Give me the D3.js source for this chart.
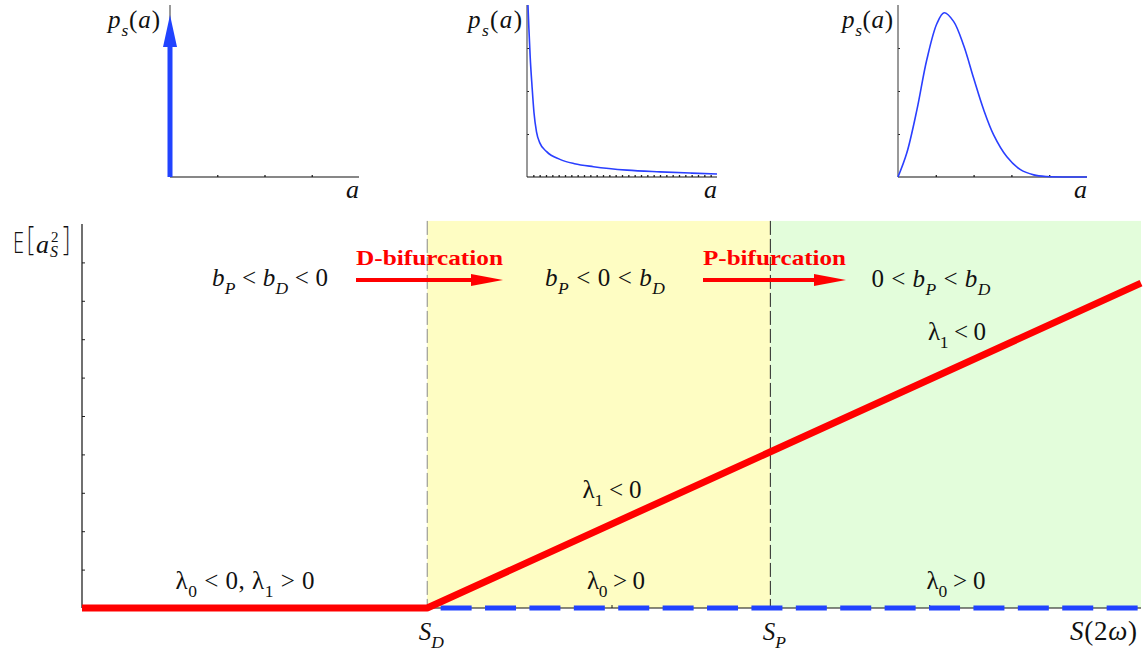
<!DOCTYPE html>
<html>
<head>
<meta charset="utf-8">
<script src="https://cdn.jsdelivr.net/npm/d3@7"></script>
<style>
  html, body { margin: 0; padding: 0; background: #fff; }
  svg { display: block; }
</style>
</head>
<body>
<svg id="chart" width="1147" height="652"></svg>
<script>
// ---- main diagram data ----
const thresholdNames = ["D", "P"];          // S_D, S_P
const thresholdValues = [3.26, 6.50];       // pump level of each bifurcation
const pumpMax = 10;
const redBranchS = [0, 3.26, 10];           // nontrivial branch E[a_S^2]
const redBranchE = [0, 0, 8.46];
const blueBranchS = [3.26, 10];             // trivial branch (unstable)
const blueBranchE = [0, 0];
const yTicks = [1, 2, 3, 4, 5, 6, 7, 8, 9];
const xTicks = [2, 5, 8];
const regionTop = 10.08;

// ---- inset densities ----
const decayA = [0.015, 0.03, 0.05, 0.08, 0.11, 0.15, 0.2, 0.31, 0.52, 0.75, 1.05, 1.58, 2.1, 2.6, 3.0];
const decayP = [4.0, 3.45, 2.8, 2.1, 1.5, 1.05, 0.8, 0.59, 0.41, 0.31, 0.24, 0.16, 0.12, 0.09, 0.07];
const peakA = [0, 0.23, 0.5, 0.76, 1.03, 1.22, 1.47, 1.74, 2.0, 2.26, 2.53, 2.88, 3.24, 3.59, 3.94, 4.5, 5.0];
const peakP = [0, 0.55, 1.56, 2.72, 3.57, 3.82, 3.62, 3.05, 2.3, 1.58, 0.98, 0.47, 0.17, 0.05, 0.01, 0, 0];
const deltaHeight = 3.77;   // height of the delta-function arrow

const RED = "#ff0000", BLUE = "#2143ff", CURVE = "#2a3fff";
const SERIF = "'Liberation Serif', 'Times New Roman', serif";
const SANS = "'Open Sans', 'DejaVu Sans', sans-serif";

const svg = d3.select("#chart");

// Build a text element from [string, kind] parts.
// kind: "i" italic, "r" roman, "sub"/"subr" subscript
function mathText(parent, x, y, parts, opt = {}) {
  const size = opt.size || 25;
  const t = parent.append("text")
    .attr("x", x).attr("y", y)
    .attr("font-family", opt.family || SERIF)
    .attr("font-size", size)
    .attr("fill", opt.fill || "#111")
    .attr("text-anchor", opt.anchor || "start");
  if (opt.len) t.attr("textLength", opt.len).attr("lengthAdjust", "spacing");
  let shift = 0;
  parts.forEach(([s, kind]) => {
    let target = 0, fs = size, style = "normal";
    if (kind === "i") style = "italic";
    if (kind === "sub") { target = size * 0.3; fs = size * 0.7; style = "italic"; }
    if (kind === "subr") { target = size * 0.3; fs = size * 0.7; }
    t.append("tspan").text(s)
      .attr("font-size", fs)
      .attr("font-style", style)
      .attr("dy", target - shift);
    shift = target;
  });
  return t;
}

// ================= main diagram =================
const x = d3.scaleLinear().domain([0, pumpMax]).range([82, 1141]);
const y = d3.scaleLinear().domain([0, 10]).range([608, 224]);

const main = svg.append("g");

// parameter regions
main.append("rect")
  .attr("x", x(thresholdValues[0])).attr("y", y(regionTop))
  .attr("width", x(thresholdValues[1]) - x(thresholdValues[0]))
  .attr("height", y(0) - y(regionTop))
  .attr("fill", "#fefdc3");
main.append("rect")
  .attr("x", x(thresholdValues[1])).attr("y", y(regionTop))
  .attr("width", x(pumpMax) - x(thresholdValues[1]))
  .attr("height", y(0) - y(regionTop))
  .attr("fill", "#e3fddb");

// threshold markers
thresholdValues.forEach((v, i) => {
  main.append("line")
    .attr("x1", x(v)).attr("x2", x(v))
    .attr("y1", y(regionTop)).attr("y2", y(0))
    .attr("stroke", i === 0 ? "#888" : "#222")
    .attr("stroke-width", 1)
    .attr("stroke-dasharray", "14,4");
});

// axes
const yAxis = d3.axisRight(y).tickValues(yTicks).tickSize(3).tickFormat("");
main.append("g").attr("transform", `translate(${x(0)},0)`).call(yAxis)
  .call(g => g.select(".domain").remove())
  .selectAll("line").attr("stroke", "#222");
const xAxis = d3.axisTop(x).tickValues(xTicks).tickSize(3).tickFormat("");
main.append("g").attr("transform", `translate(0,${y(0)})`).call(xAxis)
  .call(g => g.select(".domain").remove())
  .selectAll("line").attr("stroke", "#222");
main.append("line").attr("x1", x(0)).attr("x2", x(0)).attr("y1", y(0)).attr("y2", y(10))
  .attr("stroke", "#111").attr("stroke-width", 1.2);
main.append("line").attr("x1", x(0)).attr("x2", x(pumpMax)).attr("y1", y(0)).attr("y2", y(0))
  .attr("stroke", "#111").attr("stroke-width", 1.2);

// branches
const line = d3.line().x(d => x(d[0])).y(d => y(d[1]));
main.append("path")
  .datum(blueBranchS.map((s, i) => [s, blueBranchE[i]]))
  .attr("d", line)
  .attr("fill", "none").attr("stroke", BLUE).attr("stroke-width", 5)
  .attr("stroke-dasharray", "31,13.4").attr("stroke-dashoffset", 31);
main.append("path")
  .datum(redBranchS.map((s, i) => [s, redBranchE[i]]))
  .attr("d", line)
  .attr("fill", "none").attr("stroke", RED).attr("stroke-width", 7)
  .attr("stroke-linejoin", "bevel");

// bifurcation arrows
function redArrow(x0, x1, yy) {
  main.append("line").attr("x1", x0).attr("x2", x1 - 28).attr("y1", yy).attr("y2", yy)
    .attr("stroke", RED).attr("stroke-width", 4);
  main.append("path")
    .attr("d", `M${x1},${yy} L${x1 - 32},${yy - 6} L${x1 - 32},${yy + 6} Z`)
    .attr("fill", RED);
}
const arrowY = 280;
redArrow(356, 503, arrowY);
redArrow(703, 846, arrowY);
main.append("text").attr("x", 356).attr("y", 265).text("D-bifurcation")
  .attr("font-family", SERIF).attr("font-weight", "bold").attr("font-size", 21)
  .attr("fill", RED).attr("textLength", 147).attr("lengthAdjust", "spacingAndGlyphs");
main.append("text").attr("x", 703).attr("y", 265).text("P-bifurcation")
  .attr("font-family", SERIF).attr("font-weight", "bold").attr("font-size", 21)
  .attr("fill", RED).attr("textLength", 143).attr("lengthAdjust", "spacingAndGlyphs");

// regime labels
mathText(main, 270, 286, [["b", "i"], ["P", "sub"], [" < ", "r"], ["b", "i"], ["D", "sub"], [" < 0", "r"]], { anchor: "middle", len: 116 });
mathText(main, 605, 286, [["b", "i"], ["P", "sub"], [" < 0 < ", "r"], ["b", "i"], ["D", "sub"]], { anchor: "middle", len: 120 });
mathText(main, 931, 287, [["0 < ", "r"], ["b", "i"], ["P", "sub"], [" < ", "r"], ["b", "i"], ["D", "sub"]], { anchor: "middle", len: 119 });

// eigenvalue labels
mathText(main, 957, 340, [["λ", "r"], ["1", "subr"], [" < 0", "r"]], { anchor: "middle", len: 58 });
mathText(main, 612, 498, [["λ", "r"], ["1", "subr"], [" < 0", "r"]], { anchor: "middle", len: 59 });
mathText(main, 245, 589, [["λ", "r"], ["0", "subr"], [" < 0,    ", "r"], ["λ", "r"], ["1", "subr"], [" > 0", "r"]], { anchor: "middle", len: 139 });
mathText(main, 616, 589, [["λ", "r"], ["0", "subr"], [" > 0", "r"]], { anchor: "middle", len: 58 });
mathText(main, 956, 589, [["λ", "r"], ["0", "subr"], [" > 0", "r"]], { anchor: "middle", len: 59 });

// axis labels
thresholdValues.forEach((v, i) => {
  mathText(main, x(v) + 4, 640, [["S", "i"], [thresholdNames[i], "sub"]], { anchor: "middle" });
});
mathText(main, 1137, 640, [["S", "i"], ["(2", "r"], ["ω", "i"], [")", "r"]], { anchor: "end", size: 27, len: 67 });

// E[a_S^2] with stacked super/subscripts
const eLab = main.append("g").attr("fill", "#111");
eLab.append("text").attr("x", 13).attr("y", 253).text("E")
  .attr("font-family", SANS).attr("font-size", 29).attr("font-weight", 300)
  .attr("textLength", 11).attr("lengthAdjust", "spacingAndGlyphs");
eLab.append("text").attr("x", 27).attr("y", 250).text("[")
  .attr("font-family", SANS).attr("font-size", 33).attr("font-weight", 300)
  .attr("textLength", 7).attr("lengthAdjust", "spacingAndGlyphs");
eLab.append("text").attr("x", 36).attr("y", 253).text("a")
  .attr("font-family", SERIF).attr("font-style", "italic").attr("font-size", 26)
  .attr("textLength", 13).attr("lengthAdjust", "spacingAndGlyphs");
eLab.append("text").attr("x", 51).attr("y", 242).text("2")
  .attr("font-family", SERIF).attr("font-size", 15);
eLab.append("text").attr("x", 50).attr("y", 257).text("S")
  .attr("font-family", SERIF).attr("font-style", "italic").attr("font-size", 16);
eLab.append("text").attr("x", 63).attr("y", 250).text("]")
  .attr("font-family", SANS).attr("font-size", 33).attr("font-weight", 300)
  .attr("textLength", 7).attr("lengthAdjust", "spacingAndGlyphs");

// ================= insets =================
function inset(x0, x1, xMax, xTickValues, yTickValues, labelLeft, labelLen) {
  const g = svg.append("g");
  const sx = d3.scaleLinear().domain([0, xMax]).range([x0, x1]);
  const sy = d3.scaleLinear().domain([0, 4]).range([177, 5]);
  g.append("g").attr("transform", "translate(0,177)")
    .call(d3.axisTop(sx).tickValues(xTickValues).tickSize(2).tickFormat(""))
    .call(a => a.select(".domain").remove())
    .selectAll("line").attr("stroke", "#222").attr("stroke-width", 1.3);
  g.append("g").attr("transform", `translate(${x0},0)`)
    .call(d3.axisRight(sy).tickValues(yTickValues).tickSize(2).tickFormat(""))
    .call(a => a.select(".domain").remove())
    .selectAll("line").attr("stroke", "#222");
  g.append("line").attr("x1", x0).attr("x2", x0).attr("y1", sy(0)).attr("y2", sy(4))
    .attr("stroke", "#555").attr("stroke-width", 1.2);
  g.append("line").attr("x1", x0).attr("x2", x1).attr("y1", sy(0)).attr("y2", sy(0))
    .attr("stroke", "#111").attr("stroke-width", 1.2);
  mathText(g, labelLeft, 28, [["p", "i"], ["s", "sub"], ["(", "r"], ["a", "i"], [")", "r"]], { size: 25, len: labelLen });
  mathText(g, x1, 198, [["a", "i"]], { size: 26, anchor: "end" });
  return { g, sx, sy };
}

// delta peak at a = 0
const i1 = inset(170, 359, 4, [1, 2, 3], [], 108, 52);
i1.g.append("line").attr("x1", i1.sx(0)).attr("x2", i1.sx(0))
  .attr("y1", i1.sy(0)).attr("y2", i1.sy(deltaHeight) + 30)
  .attr("stroke", BLUE).attr("stroke-width", 5);
i1.g.append("path")
  .attr("d", `M${i1.sx(0)},${i1.sy(deltaHeight)} L${i1.sx(0) - 7},${i1.sy(deltaHeight) + 32} L${i1.sx(0) + 7},${i1.sy(deltaHeight) + 32} Z`)
  .attr("fill", BLUE);

// monotone decaying density
const i2 = inset(527, 717, 3, d3.range(1, 30).map(k => k / 10), [1, 2, 3], 468, 54);
i2.g.append("path")
  .datum(decayA.map((a, i) => [a, decayP[i]]))
  .attr("d", d3.line().x(d => i2.sx(d[0])).y(d => i2.sy(d[1])).curve(d3.curveMonotoneX))
  .attr("fill", "none").attr("stroke", CURVE).attr("stroke-width", 1.6);

// single-peaked density
const i3 = inset(898, 1087, 5, [1, 2, 3, 4], [1, 2, 3], 842, 51);
i3.g.append("path")
  .datum(peakA.map((a, i) => [a, peakP[i]]))
  .attr("d", d3.line().x(d => i3.sx(d[0])).y(d => i3.sy(d[1])).curve(d3.curveCatmullRom.alpha(0.5)))
  .attr("fill", "none").attr("stroke", CURVE).attr("stroke-width", 1.6);
</script>
</body>
</html>
